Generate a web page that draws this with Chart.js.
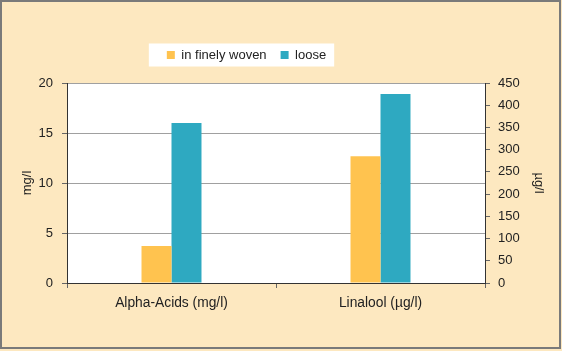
<!DOCTYPE html>
<html>
<head>
<meta charset="utf-8">
<script src="https://cdn.jsdelivr.net/npm/chart.js@4"></script>
<style>
  html, body { margin: 0; padding: 0; background: #fff; }
  #wrap { width: 562px; height: 351px; }
</style>
</head>
<body>
<div id="wrap"><canvas id="hopChart" width="562" height="351"></canvas></div>
<script>
// Hop comparison - finely woven bag vs loose hops

const categories = ['Alpha-Acids (mg/l)', 'Linalool (µg/l)'];
const seriesNames = ['in finely woven', 'loose'];
const alphaAcids = [3.7, 16.0];   // mg/l : finely woven, loose
const linalool = [285, 425];      // µg/l : finely woven, loose
const leftAxis = { min: 0, max: 20, step: 5, title: 'mg/l' };
const rightAxis = { min: 0, max: 450, step: 50, title: 'µg/l' };

const colors = ['#ffc34f', '#2ea9c1'];
const darkLine = '#333333';

Chart.defaults.font.family = '"Liberation Sans", Arial, sans-serif';
Chart.defaults.font.size = 13;
Chart.defaults.color = '#333333';

// background, frame, white plot area and legend box
const frame = {
  id: 'frame',
  beforeLayout(chart) {
    // a little more room under the legend
    const lg = chart.legend;
    if (lg && !lg._padded) {
      const fit = lg.fit.bind(lg);
      lg.fit = function () { fit(); this.height += 11.5; };
      lg._padded = true;
    }
  },
  afterLayout(chart) {
    // shift legend so its items sit left of centre like the original
    const lg = chart.legend;
    lg.left = 0;
    lg.right = 493;
    lg.width = 493;
  },
  beforeDraw(chart) {
    const { ctx, chartArea: a } = chart;
    ctx.save();
    ctx.fillStyle = '#fde8c0';
    ctx.fillRect(0, 0, chart.width, chart.height);
    ctx.strokeStyle = '#7a7a7a';
    ctx.lineWidth = 2;
    ctx.strokeRect(1, 1, chart.width - 3, chart.height - 4);
    ctx.fillStyle = '#ffffff';
    ctx.fillRect(a.left, a.top, a.right - a.left, a.bottom - a.top);
    const boxes = chart.legend.legendHitBoxes || [];
    if (boxes.length) {
      const x0 = Math.min(...boxes.map(b => b.left)) - 18;
      const x1 = Math.max(...boxes.map(b => b.left + b.width)) + 8;
      const y0 = Math.min(...boxes.map(b => b.top)) - 5;
      const y1 = Math.max(...boxes.map(b => b.top + b.height)) + 5;
      ctx.fillRect(x0, y0, x1 - x0, y1 - y0);
    }
    ctx.restore();
  }
};

const datasets = [
  { label: seriesNames[0], data: [alphaAcids[0], null], yAxisID: 'y', backgroundColor: colors[0] },
  { label: seriesNames[1], data: [alphaAcids[1], null], yAxisID: 'y', backgroundColor: colors[1] },
  { label: seriesNames[0], data: [null, linalool[0]], yAxisID: 'y2', backgroundColor: colors[0] },
  { label: seriesNames[1], data: [null, linalool[1]], yAxisID: 'y2', backgroundColor: colors[1] }
];
datasets.forEach(ds => {
  ds.skipNull = true;
  ds.categoryPercentage = 0.287;
  ds.barPercentage = 1.0;
  ds.borderWidth = 0;
});

new Chart(document.getElementById('hopChart'), {
  type: 'bar',
  data: { labels: categories, datasets },
  options: {
    responsive: false,
    animation: false,
    layout: { padding: { top: 34.5, left: 0, right: 0, bottom: 0 } },
    plugins: {
      tooltip: { enabled: false },
      legend: {
        position: 'top',
        labels: {
          boxWidth: 8,
          boxHeight: 8,
          padding: 14,
          color: '#222',
          filter: (item) => item.datasetIndex < 2
        }
      }
    },
    scales: {
      x: {
        afterFit: (s) => { s.height = 68; },
        grid: { drawOnChartArea: false, tickLength: 5, tickColor: '#666', offset: true },
        border: { color: darkLine, width: 1 },
        ticks: { padding: 7, color: '#222', font: { size: 13.8 } }
      },
      y: {
        position: 'left',
        min: leftAxis.min,
        max: leftAxis.max,
        afterFit: (s) => { s.width = 67; },
        ticks: { stepSize: leftAxis.step, padding: 9, color: '#222' },
        grid: { color: '#a0a0a0', tickColor: '#666', tickLength: 5 },
        border: { color: darkLine, width: 1 },
        title: { display: true, text: leftAxis.title, padding: { top: 20, bottom: 0 }, color: '#222' }
      },
      y2: {
        position: 'right',
        min: rightAxis.min,
        max: rightAxis.max,
        afterFit: (s) => { s.width = 77; },
        ticks: { stepSize: rightAxis.step, padding: 8, color: '#222' },
        grid: { drawOnChartArea: false, tickColor: '#666', tickLength: 5 },
        border: { color: darkLine, width: 1 },
        title: { display: true, text: rightAxis.title, padding: { top: 16, bottom: 0 }, color: '#222' }
      }
    }
  },
  plugins: [frame]
});
</script>
</body>
</html>
